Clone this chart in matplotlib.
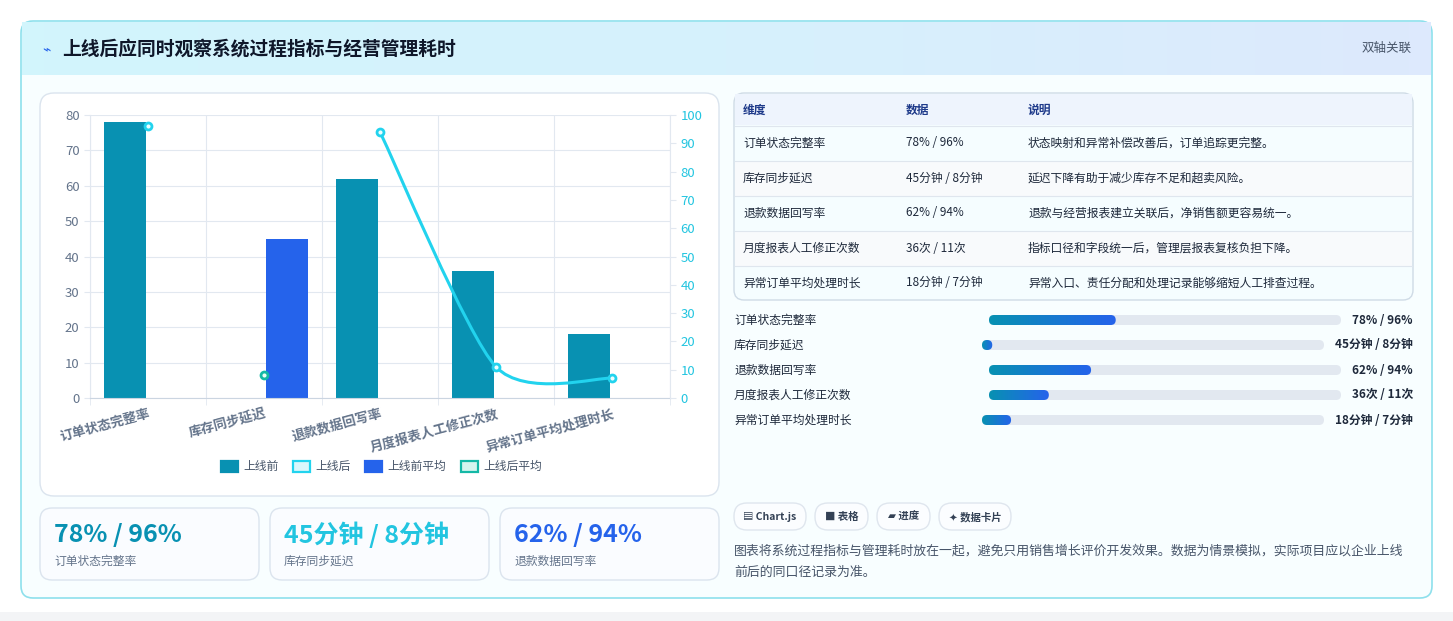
import matplotlib
matplotlib.use("Agg")
import numpy as np
import matplotlib.pyplot as plt
from matplotlib.patches import FancyBboxPatch, Rectangle
from matplotlib.path import Path
from matplotlib.patches import PathPatch

plt.rcParams['font.family'] = ['Noto Sans CJK SC', 'DejaVu Sans']

# data
categories = ['订单状态完整率', '库存同步延迟', '退款数据回写率', '月度报表人工修正次数', '异常订单平均处理时长']
before = [78, np.nan, 62, 36, 18]
before_avg = [np.nan, 45, np.nan, np.nan, np.nan]
after = [96, np.nan, 94, 11, 7]
after_avg = [np.nan, 8, np.nan, np.nan, np.nan]
data_text = ['78% / 96%', '45分钟 / 8分钟', '62% / 94%', '36次 / 11次', '18分钟 / 7分钟']
notes = ['状态映射和异常补偿改善后，订单追踪更完整。',
         '延迟下降有助于减少库存不足和超卖风险。',
         '退款与经营报表建立关联后，净销售额更容易统一。',
         '指标口径和字段统一后，管理层报表复核负担下降。',
         '异常入口、责任分配和处理记录能够缩短人工排查过程。']
progress = [0.36, 0.03, 0.29, 0.17, 0.085]
kpi_values = ['78% / 96%', '45分钟 / 8分钟', '62% / 94%']
kpi_labels = ['订单状态完整率', '库存同步延迟', '退款数据回写率']
kpi_colors = ['#0891b2', '#22c5e0', '#2563eb']
chips = ['▤ Chart.js', '■ 表格', '▰ 进度', '✦ 数据卡片']
chip_w = [72, 53, 53, 72]

W, H = 1453, 621
fig = plt.figure(figsize=(W / 100, H / 100), dpi=100)
fig.patch.set_facecolor('#f3f4f6')

bg = fig.add_axes([0, 0, 1, 1])
bg.set_xlim(0, W); bg.set_ylim(H, 0); bg.axis('off')

def rbox(x, y, w, h, r, fc, ec, lw=1, z=1):
    bg.add_patch(FancyBboxPatch((x + r, y + r), w - 2 * r, h - 2 * r,
                                boxstyle=f'round,pad={r}', fc=fc, ec=ec, lw=lw, zorder=z))

bg.add_patch(Rectangle((0, 0), W, 612, fc='white', ec='none', zorder=0))
rbox(21, 21, 1411, 577, 12, '#f8feff', '#8ee0ec', 1.2)
# header band with soft gradient
hcmap = matplotlib.colors.LinearSegmentedColormap.from_list('h', ['#d2f5fc', '#d6f1fc', '#dde9fd'])
bg.imshow(np.linspace(0, 1, 64).reshape(1, -1), cmap=hcmap, extent=(22, 1431, 75, 22),
          aspect='auto', zorder=1)
bg.text(42, 49, '⌁', fontsize=10, color='#2563eb', va='center', zorder=3, family=['DejaVu Sans'])
bg.text(62, 49, '上线后应同时观察系统过程指标与经营管理耗时', fontsize=13.5, weight='bold',
        color='#0f172a', va='center', zorder=3)
bg.text(1412, 48, '双轴关联', fontsize=9, color='#475569', va='center', ha='right', zorder=3)

# chart card
rbox(40, 93, 679, 403, 14, 'white', '#dbe4ee', 1, 1)
ax = fig.add_axes([90 / W, 1 - 398 / H, 580 / W, 283 / H])
ax2 = ax.twinx()
x = np.arange(len(categories))
bw = 0.36
ax.bar(x - 0.2, before, bw, color='#0891b2', label='上线前', zorder=2)
ax.bar(x + 0.2, before_avg, bw, color='#2563eb', label='上线前平均', zorder=2)
ax.set_xlim(-0.5, 4.5)
ax.set_ylim(0, 80)
ax.set_yticks(range(0, 81, 10))
ax.set_xticks(x)
ax.set_xticklabels(categories, rotation=15, ha='right', rotation_mode='anchor',
                   fontsize=9.5, color='#64748b', weight='bold')
ax.set_xticks(np.arange(-0.5, 5, 1), minor=True)
ax.grid(False)
ax.grid(True, axis='y', color='#e2e8f0', lw=0.8, zorder=0)
ax.grid(True, axis='x', which='minor', color='#e2e8f0', lw=0.8, zorder=0)
ax.tick_params(axis='x', length=0, pad=6)
ax.tick_params(axis='x', which='minor', length=5, color='#e2e8f0')
ax.tick_params(axis='y', length=4, color='#e2e8f0', labelsize=9.5, labelcolor='#64748b')
for s in ['top', 'right']:
    ax.spines[s].set_visible(False)
ax.spines['left'].set_color('#e2e8f0'); ax.spines['bottom'].set_color('#cbd5e1')

# line on right axis
ax2.set_ylim(0, 100)
ax2.set_yticks(range(0, 101, 10))
ax2.tick_params(axis='y', length=4, color='#e2e8f0', labelsize=9.5, labelcolor='#22c5e0')
for s in ['top', 'left', 'bottom']:
    ax2.spines[s].set_visible(False)
ax2.spines['right'].set_color('#e2e8f0')
a = np.array(after, dtype=float)
seg = [i for i in range(len(a)) if not np.isnan(a[i]) and i >= 2]
px, py = x[seg].astype(float), a[seg]
verts = [(px[0], py[0])]; codes = [Path.MOVETO]
t = 0.25
for i in range(len(px) - 1):
    p0 = (px[max(i - 1, 0)], py[max(i - 1, 0)]); p1 = (px[i], py[i])
    p2 = (px[i + 1], py[i + 1]); p3 = (px[min(i + 2, len(px) - 1)], py[min(i + 2, len(px) - 1)])
    c1 = (p1[0] + (p2[0] - p0[0]) * t / 2, p1[1] + (p2[1] - p0[1]) * t / 2)
    c2 = (p2[0] - (p3[0] - p1[0]) * t / 2, p2[1] - (p3[1] - p1[1]) * t / 2)
    verts += [c1, c2, p2]; codes += [Path.CURVE4] * 3
ax2.add_patch(PathPatch(Path(verts, codes), fc='none', ec='#22d3ee', lw=2.2, zorder=3))
ax2.plot(x, after, ls='none', marker='o', ms=5, mfc='#ecfeff', mec='#22d3ee', mew=2,
         zorder=4, clip_on=False)
ax2.plot(x, after_avg, ls='none', marker='o', ms=5, mfc='#ecfdf5', mec='#14b8a6', mew=2,
         zorder=4, clip_on=False)

# legend
items = [('上线前', '#0891b2', '#0891b2'), ('上线后', '#d9f7fc', '#22d3ee'),
         ('上线前平均', '#2563eb', '#2563eb'), ('上线后平均', '#d5f5ee', '#14b8a6')]
lx = 221
for name, fc, ec in items:
    bg.add_patch(Rectangle((lx, 461), 17, 11, fc=fc, ec=ec, lw=1.6, zorder=3))
    bg.text(lx + 22, 466, name, fontsize=8.5, color='#475569', va='center', zorder=3)
    lx += 22 + len(name) * 12 + 14

# KPI cards
for i in range(3):
    cx = 40 + i * 230
    rbox(cx, 508, 219, 72, 12, '#fafcff', '#dbe4ee', 1, 1)
    bg.text(cx + 14, 535, kpi_values[i], fontsize=18, weight='bold', color=kpi_colors[i],
            va='center', zorder=3)
    bg.text(cx + 14, 561, kpi_labels[i], fontsize=8.5, color='#64748b', va='center', zorder=3)

# table
rbox(734, 93, 679, 207, 10, '#f5fdff', '#cfdbe6', 1, 1)
bg.add_patch(Rectangle((735, 94), 677, 31, fc='#eef4fd', ec='none', zorder=1))
cols = [743, 906, 1028]
for c, h in zip(cols, ['维度', '数据', '说明']):
    bg.text(c, 110, h, fontsize=8.5, weight='bold', color='#1e3a8a', va='center', zorder=3)
for r in range(5):
    yc = 143 + r * 35
    if r % 2 == 1:
        bg.add_patch(Rectangle((735, yc - 17), 677, 35, fc='#f8fafc', ec='none', zorder=1))
    bg.plot([735, 1412], [yc - 17.5, yc - 17.5], color='#dfe6ee', lw=0.8, zorder=2)
    for c, s in zip(cols, [categories[r], data_text[r], notes[r]]):
        bg.text(c, yc, s, fontsize=8.5, color='#1e293b', va='center', ha='left', zorder=3)

# progress rows
cmap = matplotlib.colors.LinearSegmentedColormap.from_list('g', ['#0891b2', '#2563eb'])
grad = np.linspace(0, 1, 64).reshape(1, -1)
track_l = [989, 982, 989, 989, 982]
track_r = [1341, 1324, 1341, 1341, 1324]
for r in range(5):
    yc = 320 + r * 25
    bg.text(734, yc, categories[r], fontsize=8.5, color='#1e293b', va='center', zorder=3)
    l, rr = track_l[r], track_r[r]
    rbox(l, yc - 5, rr - l, 10, 5, '#e2e8f0', 'none', 0, 2)
    fw = max(progress[r] * (rr - l), 10)
    bg.imshow(grad, cmap=cmap, extent=(l, l + fw, yc + 5, yc - 5), aspect='auto', zorder=3,
              clip_path=FancyBboxPatch((l + 5, yc), fw - 10, 0, boxstyle='round,pad=5',
                                       transform=bg.transData))
    bg.text(1413, yc, data_text[r], fontsize=8.5, weight='bold', color='#1e293b',
            va='center', ha='right', zorder=3)
bg.set_xlim(0, W); bg.set_ylim(H, 0)

# chips
cx = 734
for c, w in zip(chips, chip_w):
    rbox(cx, 503, w, 27, 13, '#fbfdff', '#dfe6ee', 1, 1)
    bg.text(cx + w / 2, 517, c, fontsize=7.5, weight='bold', color='#334155', ha='center',
            va='center', zorder=3, family=['Noto Sans CJK SC', 'DejaVu Sans'])
    cx += w + 9

bg.text(734, 551, '图表将系统过程指标与管理耗时放在一起，避免只用销售增长评价开发效果。数据为情景模拟，实际项目应以企业上线',
        fontsize=9.3, color='#475569', va='center', zorder=3)
bg.text(734, 572, '前后的同口径记录为准。', fontsize=9.3, color='#475569', va='center', zorder=3)

fig.savefig('out.png', dpi=100)
